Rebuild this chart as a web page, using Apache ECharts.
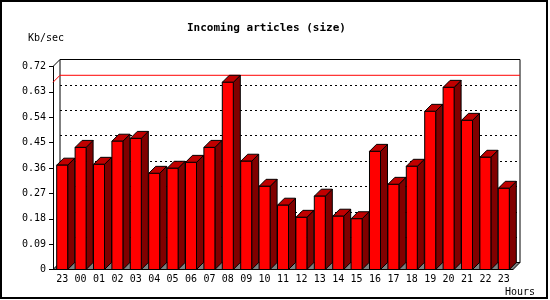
<!DOCTYPE html>
<html>
<head>
<meta charset="utf-8">
<script src="https://cdn.jsdelivr.net/npm/echarts@6/dist/echarts.min.js"></script>
<style>
html,body{margin:0;padding:0;background:#fff;}
#chart{width:550px;height:300px;}
</style>
</head>
<body>
<div id="chart"></div>
<script>
// ---- data ----
const hours = ['23','00','01','02','03','04','05','06','07','08','09','10','11','12','13','14','15','16','17','18','19','20','21','22','23'];
const kbPerSec = [0.370,0.433,0.373,0.455,0.465,0.341,0.359,0.380,0.433,0.664,0.384,0.295,0.228,0.185,0.260,0.189,0.180,0.419,0.302,0.366,0.561,0.646,0.529,0.398,0.288];
const yTicks = {min:0, max:0.72, interval:0.09};
const titleText = 'Incoming articles (size)';
const yUnit = 'Kb/sec';
const xUnit = 'Hours';
</script>
<script>
const chart = echarts.init(document.getElementById('chart'), null, {renderer:'canvas'});
const FONT = 'DejaVu Sans Mono';
const D = 7; // depth offset
const maxVal = Math.max.apply(null, kbPerSec);

function barItem(params, api){
  const c = api.coord([api.value(0), api.value(1)]);
  const b = api.coord([api.value(0), 0]);
  const bw = api.size([1,0])[0];
  const hw = bw*0.299;
  const x0 = c[0]-hw, x1 = c[0]+hw, yt = c[1], yb = b[1];
  const st = {stroke:'#000', lineWidth:1};
  return {type:'group', children:[
    {type:'polygon', shape:{points:[[x1,yb],[x1+D,yb-D],[x1+D,yt-D],[x1,yt]]}, style:Object.assign({fill:'#800000'},st)},
    {type:'polygon', shape:{points:[[x0,yt],[x1,yt],[x1+D,yt-D],[x0+D,yt-D]]}, style:Object.assign({fill:'#c00000'},st)},
    {type:'rect', shape:{x:x0,y:yt,width:x1-x0,height:yb-yt}, style:Object.assign({fill:'#ff0000'},st)}
  ]};
}

function frameItem(params, api){
  const cs = params.coordSys;
  const L = cs.x, R = cs.x+cs.width, T = cs.y, B = cs.y+cs.height;
  const ym = api.coord([0, api.value(1)])[1];
  return {type:'group', children:[
    {type:'polygon', shape:{points:[[L,B],[R,B],[R+D,B-D],[L+D,B-D]]}, style:{fill:'#808080', stroke:'#000', lineWidth:1}},
    {type:'line', shape:{x1:L,y1:T,x2:L+D,y2:T-D}, style:{stroke:'#000', lineWidth:1}},
    {type:'line', shape:{x1:L,y1:ym,x2:L+D,y2:ym-D}, style:{stroke:'#ff0000', lineWidth:1}},
    {type:'line', shape:{x1:L+D,y1:ym-D,x2:R+D,y2:ym-D}, style:{stroke:'#ff0000', lineWidth:1}}
  ]};
}

const option = {
  backgroundColor:'#fff',
  animation:false,
  title:{text:titleText, left:182, top:18, textStyle:{fontFamily:FONT, fontSize:11, fontWeight:'bold', color:'#000'}},
  grid:[
    {left:53, right:37, top:66.5, bottom:30.5},
    {left:60, right:30, top:59.5, bottom:37.5, show:true, borderColor:'#000', borderWidth:1, backgroundColor:'rgba(0,0,0,0)', z:-1}
  ],
  xAxis:[
    {type:'category', gridIndex:0, data:hours, boundaryGap:true,
     axisLine:{lineStyle:{color:'#000'}}, axisTick:{length:4, lineStyle:{color:'#000'}},
     axisLabel:{fontFamily:FONT, fontSize:10, color:'#000', margin:5, interval:0}, splitLine:{show:false}, z:5},
    {type:'category', gridIndex:1, data:hours, show:false}
  ],
  yAxis:[
    {type:'value', gridIndex:0, min:yTicks.min, max:yTicks.max, interval:yTicks.interval,
     axisLine:{show:true, lineStyle:{color:'#000'}}, axisTick:{show:true, length:4, lineStyle:{color:'#000'}},
     axisLabel:{fontFamily:FONT, fontSize:10, color:'#000', margin:7, formatter:v => v===0 ? '0' : v.toFixed(2)},
     splitLine:{show:false}},
    {type:'value', gridIndex:1, min:yTicks.min, max:yTicks.max, interval:yTicks.interval,
     axisLine:{show:false}, axisTick:{show:false}, axisLabel:{show:false},
     splitLine:{show:true, lineStyle:{color:'#000', type:[2,3], width:1}}, z:-1}
  ],
  series:[
    {type:'custom', xAxisIndex:0, yAxisIndex:0, renderItem:frameItem, data:[[0, maxVal]], z:1, silent:true},
    {type:'custom', xAxisIndex:0, yAxisIndex:0, renderItem:barItem, data:kbPerSec.map((v,i)=>[i,v]), z:3, silent:true}
  ],
  graphic:[
    {type:'rect', shape:{x:1, y:1, width:546, height:297}, style:{fill:'none', stroke:'#000', lineWidth:2}, z:100},
    {type:'text', left:28, top:33, style:{text:yUnit, fontFamily:FONT, fontSize:10, fill:'#000'}},
    {type:'text', left:505, top:287, style:{text:xUnit, fontFamily:FONT, fontSize:10, fill:'#000'}}
  ]
};
chart.setOption(option);
</script>
</body>
</html>
